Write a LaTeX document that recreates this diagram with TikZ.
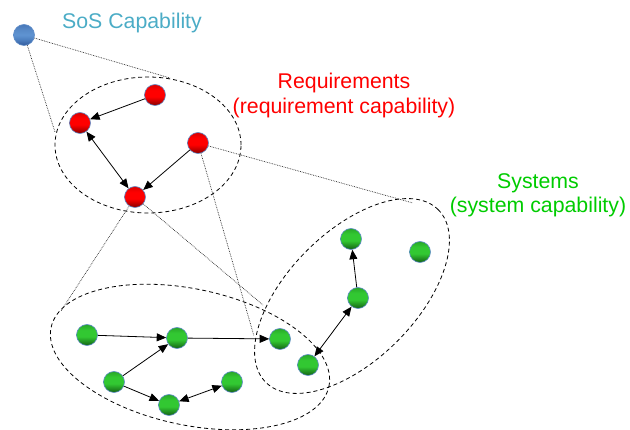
\documentclass[tikz,border=0pt]{standalone}
\usepackage{fontspec}
\setmainfont{Liberation Sans}
\usetikzlibrary{arrows.meta}
\definecolor{sostext}{RGB}{75,172,198}
\definecolor{reqtext}{RGB}{255,0,0}
\definecolor{systext}{RGB}{0,204,0}
\definecolor{ballrim}{RGB}{95,140,200}
\pgfdeclareverticalshading{gsh}{100bp}{rgb(0bp)=(0.078,0.373,0.078); rgb(25bp)=(0.078,0.373,0.078); rgb(36bp)=(0.137,0.588,0.137); rgb(46bp)=(0.196,0.784,0.196); rgb(62bp)=(0.196,0.784,0.196); rgb(75bp)=(0.157,0.647,0.157); rgb(100bp)=(0.157,0.647,0.157)}
\pgfdeclareverticalshading{rsh}{100bp}{rgb(0bp)=(0.51,0,0); rgb(25bp)=(0.51,0,0); rgb(36bp)=(0.784,0,0); rgb(46bp)=(1,0,0); rgb(62bp)=(1,0,0); rgb(75bp)=(0.843,0,0); rgb(100bp)=(0.843,0,0)}
\pgfdeclareverticalshading{bsh}{100bp}{rgb(0bp)=(0.196,0.353,0.608); rgb(25bp)=(0.196,0.353,0.608); rgb(38bp)=(0.294,0.49,0.745); rgb(50bp)=(0.373,0.58,0.824); rgb(62bp)=(0.345,0.541,0.784); rgb(75bp)=(0.282,0.471,0.725); rgb(100bp)=(0.282,0.471,0.725)}
\begin{document}
\begin{tikzpicture}[x=1pt,y=-1pt,
  ball/.style={circle,minimum size=21pt,inner sep=0pt,draw=ballrim,line width=0.6pt},
  gball/.style={ball,shading=gsh},
  rball/.style={ball,shading=rsh},
  bball/.style={ball,shading=bsh},
  arr/.style={-{Triangle[length=9.5pt,width=8pt]},line width=0.8pt,black},
  darr/.style={{Triangle[length=9.5pt,width=8pt]}-{Triangle[length=9.5pt,width=8pt]},line width=0.8pt,black},
  dotline/.style={densely dotted,line width=0.7pt,black!85},
  group/.style={dash pattern=on 4pt off 3pt,line width=0.8pt,black},
  lbl/.style={font=\fontsize{21.3pt}{24.5pt}\selectfont,align=center,inner sep=0pt}
]
\useasboundingbox (0,0) rectangle (630,430);
% group outlines
\draw[group] (148,145) ellipse [x radius=93pt, y radius=68pt];
\draw[group,rotate around={-12:(190,357)}] (190,357) ellipse [x radius=142pt, y radius=68pt];
\draw[group,rotate around={45:(352,296)}] (352,296) ellipse [x radius=122pt, y radius=64pt];
% labels
\node[lbl,text=sostext,anchor=base] (lsos) at (132,29) {SoS Capability};
\node[lbl,text=reqtext,anchor=north] (lreq) at (344,73) {Requirements\\(requirement capability)};
\node[lbl,text=systext,anchor=north] (lsys) at (538,173) {Systems\\(system capability)};
% nodes
\node[bball] (sos) at (24,35) {};
\node[rball] (r1) at (155,95) {};
\node[rball] (r2) at (80,123) {};
\node[rball] (r3) at (198,143) {};
\node[rball] (r4) at (135,197) {};
\node[gball] (g1) at (87,335) {};
\node[gball] (g2) at (177,338) {};
\node[gball] (g3) at (114,382) {};
\node[gball] (g4) at (169,405) {};
\node[gball] (g5) at (232,382) {};
\node[gball] (g6) at (280,339) {};
\node[gball] (g7) at (308,365) {};
\node[gball] (g8) at (351,239) {};
\node[gball] (g9) at (420,252) {};
\node[gball] (g10) at (358,298) {};
% mapping end points
\coordinate (s1) at (170,78);
\coordinate (s2) at (55,132);
\coordinate (t1) at (413,203);
\coordinate (t2) at (254,336);
\coordinate (t3) at (61,311);
\coordinate (t4) at (263,305);
% mapping lines
\draw[dotline] (sos) -- (s1);
\draw[dotline] (sos) -- (s2);
\draw[dotline] (r3) -- (t1);
\draw[dotline] (r3) -- (t2);
\draw[dotline] (r4) -- (t3);
\draw[dotline] (r4) -- (t4);
% arrows
\draw[arr] (r1) -- (r2);
\draw[darr] (r2) -- (r4);
\draw[arr] (r3) -- (r4);
\draw[arr] (g1) -- (g2);
\draw[arr] (g3) -- (g2);
\draw[arr] (g3) -- (g4);
\draw[darr] (g4) -- (g5);
\draw[arr] (g2) -- (g6);
\draw[arr] (g10) -- (g8);
\draw[darr] (g10) -- (g7);
\end{tikzpicture}
\end{document}
